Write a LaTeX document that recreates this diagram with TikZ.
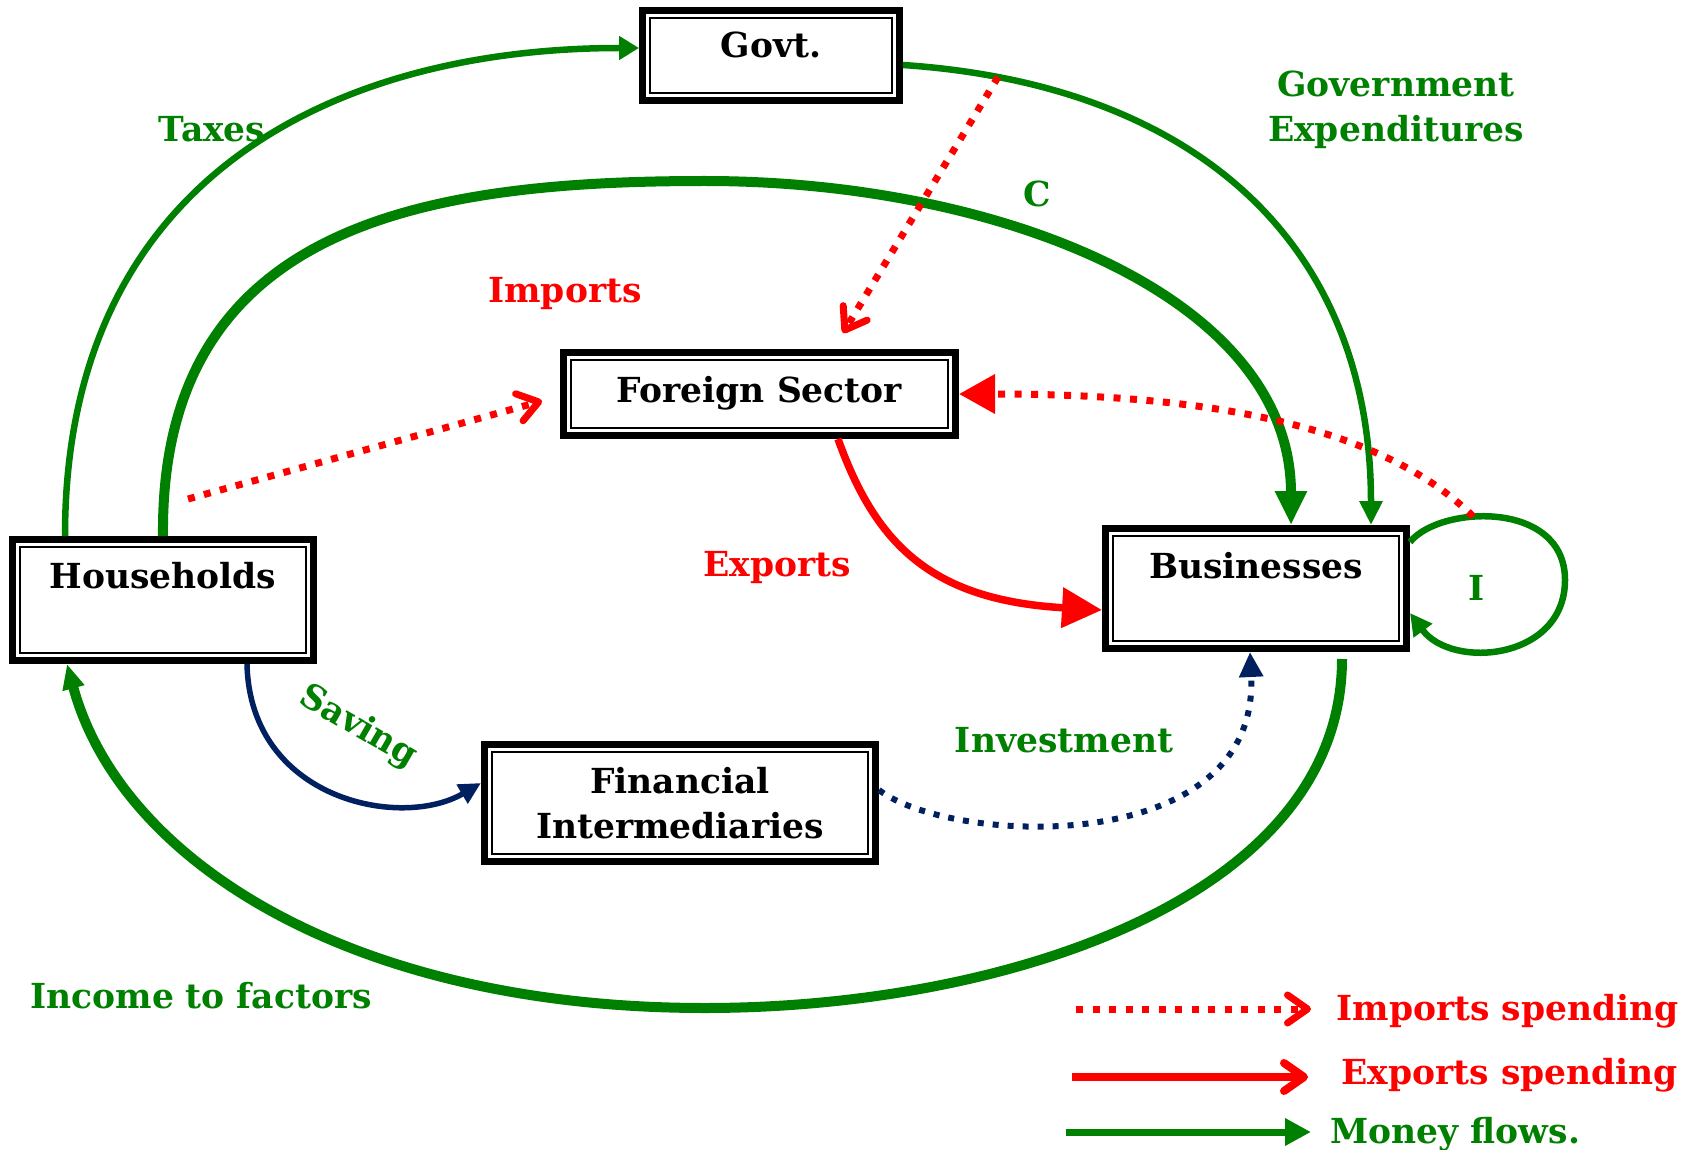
\documentclass[tikz,border=0pt]{standalone}
\usepackage{fontspec}
\setmainfont{DejaVu Serif}
\usetikzlibrary{arrows.meta}
\definecolor{mgreen}{RGB}{0,128,0}
\definecolor{mred}{RGB}{255,0,0}
\definecolor{mnavy}{RGB}{0,32,96}
\begin{document}
\begin{tikzpicture}[x=1pt,y=-1pt,
  every node/.style={font=\bfseries\fontsize{34.5}{45}\selectfont},
  sector/.style={draw=black, line width=7pt, rectangle, inner sep=0pt, outer sep=3.5pt, text=black},
  innerframe/.style={draw=black, line width=2pt},
  glabel/.style={text=mgreen, anchor=base},
  rlabel/.style={text=mred, anchor=base},
  money/.style={draw=mgreen, line width=6.5pt},
  bigmoney/.style={draw=mgreen, line width=10pt},
  imp/.style={draw=mred, line width=7pt, dash pattern=on 7pt off 9.5pt},
  barb/.style={-{Straight Barb[length=20pt,width=28pt,round]}},
  tri/.style 2 args={-{Triangle[length=#1pt,width=#2pt]}}
]
\useasboundingbox (0,0) rectangle (1700,1150);

% sectors
\node[sector, minimum width=257pt, text height=47.5pt, text depth=42.5pt, anchor=base] (gov) at (771,58) {Govt.};
\node[sector, minimum width=392pt, text height=49.5pt, text depth=33.5pt, anchor=base] (fs) at (759.5,402) {Foreign Sector};
\node[sector, minimum width=301pt, text height=48.5pt, text depth=72.5pt, anchor=base] (hh) at (163,588) {Households};
\node[sector, minimum width=301pt, text height=49.5pt, text depth=70.5pt, anchor=base] (bus) at (1256,578) {Businesses};
\node[sector, minimum width=391pt, minimum height=117pt, align=center] (fi) at (680,803) {Financial\\Intermediaries};
\foreach \n in {gov,fs,hh,bus,fi}
  \draw[innerframe] ([shift={(11pt,-11pt)}]\n.north west) rectangle ([shift={(-11pt,11pt)}]\n.south east);

% coordinates
\coordinate (ctop) at (705,181);
\coordinate (ibot) at (705,1008);
\coordinate (iright) at (1565,580);

% money flows
\draw[money, tri={20}{23}] ([xshift=-98pt]hh.north) .. controls +(0,-362) and +(-300,0) .. ([yshift=7.5pt]gov.west);
\draw[bigmoney, tri={34}{30}] (hh.north) .. controls +(-3,-310) and +(-285,0) .. (ctop) .. controls +(295,0) and +(0,-228) .. ([xshift=35pt]bus.north);
\draw[money, tri={24}{22}] ([yshift=-9.5pt]gov.east) .. controls +(297,20) and +(0,-278) .. ([xshift=115pt]bus.north) coordinate[pos=0.112] (gx);
\draw[money, tri={22}{22}] ([yshift=46.5pt]bus.east) .. controls +(30,-37) and +(0,-80) .. (iright) coordinate[pos=0.38] (itop) .. controls +(0,80) and +(42,57) .. ([yshift=-24.5pt]bus.east);
\draw[bigmoney, tri={25}{21}] ([shift={(86pt,-7pt)}]bus.south) .. controls +(0,241) and +(295,0) .. (ibot) .. controls +(-355,0) and +(53,196) .. ([xshift=-96pt]hh.south);

% saving / investment
\draw[draw=mnavy, line width=5.5pt, tri={22}{21}] ([xshift=84pt]hh.south) .. controls +(3,136) and +(-80,47) .. ([yshift=20pt]fi.west);
\draw[draw=mnavy, line width=6pt, dash pattern=on 6pt off 9pt, tri={25}{23}] ([yshift=13pt]fi.east) .. controls +(71,55) and +(10,208) .. ([xshift=-6pt]bus.south);

% imports / exports
\draw[imp, barb] (gx) -- ([shift={(83.5pt,16pt)}]fs.north);
\draw[imp, barb] ([shift={(25pt,37pt)}]hh.north) -- ([shift={(-18pt,-7pt)}]fs.west);
\draw[imp, tri={36}{38}] (itop) .. controls +(-94,-93) and +(243,0) .. (fs.east);
\draw[draw=mred, line width=7.5pt, tri={40}{39}] ([xshift=78.5pt]fs.south) .. controls +(37,103) and +(-173,-10) .. ([yshift=-21.5pt]bus.west);

% labels
\node[glabel] (taxes) at (212,142) {Taxes};
\node[glabel, align=center] (gexp) at (1396,142) {Government\\Expenditures};
\node[glabel] (clab) at (1037,207) {C};
\node[rlabel] (implab) at (565,302) {Imports};
\node[rlabel] (explab) at (777,576) {Exports};
\node[text=mgreen, rotate=-30] (savlab) at (358,727) {Saving};
\node[glabel] (invlab) at (1064,752) {Investment};
\node[glabel] (ilab) at (1477,600) {I};
\node[glabel] (inclab) at (201,1008) {Income to factors};

% legend
\coordinate (l1a) at (1076,1009); \coordinate (l1b) at (1311,1009);
\coordinate (l2a) at (1072,1077); \coordinate (l2b) at (1308,1077);
\coordinate (l3a) at (1066,1132); \coordinate (l3b) at (1311,1132);
\draw[imp, barb] (l1a) -- (l1b);
\draw[draw=mred, line width=8pt, barb] (l2a) -- (l2b);
\draw[draw=mgreen, line width=7pt, tri={26}{26}] (l3a) -- (l3b);
\node[text=mred, anchor=base west] (lg1) at (1333,1020) {Imports spending};
\node[text=mred, anchor=base west] (lg2) at (1338,1084) {Exports spending};
\node[text=mgreen, anchor=base west] (lg3) at (1327,1143) {Money flows.};
\end{tikzpicture}
\end{document}
